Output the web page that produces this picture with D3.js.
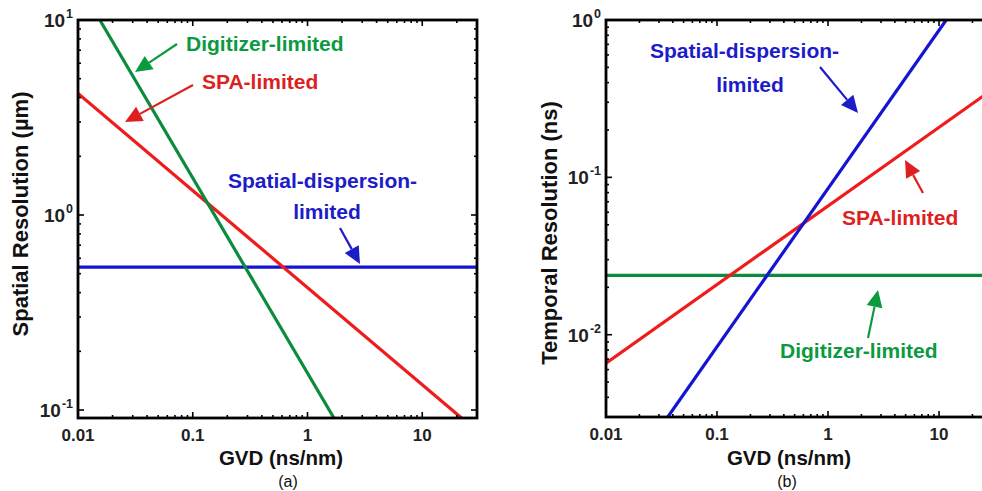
<!DOCTYPE html>
<html>
<head>
<meta charset="utf-8">
<script src="https://cdn.jsdelivr.net/npm/d3@7"></script>
<style>
html,body{margin:0;padding:0;background:#fff;}
svg{display:block;}
text{font-family:"Liberation Sans",Arial,Helvetica,sans-serif;}
</style>
</head>
<body>
<svg id="chart" width="982" height="491"></svg>
<script>
// ---------- data ----------
const gvdTicks = [0.01, 0.1, 1, 10];
const gvdTickLabels = ["0.01", "0.1", "1", "10"];

const spatialYTicks = [0.1, 1, 10];
const spatialYExp = ["-1", "0", "1"];
const temporalYTicks = [0.01, 0.1, 1];
const temporalYExp = ["-2", "-1", "0"];

// panel (a): spatial resolution (µm) vs GVD (ns/nm)
const spatialDigitizerX = [0.0155, 1.7];
const spatialDigitizerY = [10, 0.091];
const spatialSpaX = [0.01, 22];
const spatialSpaY = [4.2, 0.091];
const spatialDispX = [0.01, 30];
const spatialDispY = [0.54, 0.54];

// panel (b): temporal resolution (ns) vs GVD (ns/nm)
const temporalDigitizerX = [0.01, 30];
const temporalDigitizerY = [0.0238, 0.0238];
const temporalSpaX = [0.01, 30];
const temporalSpaY = [0.0066, 0.36];
const temporalDispX = [0.036, 11.6];
const temporalDispY = [0.003, 1];

// ---------- styles ----------
const GREEN = "#0a8c3c", RED = "#ee1c1c", BLUE = "#1414d2";
const GREEN_T = "#0b9a3f", RED_T = "#dd1f1f", BLUE_T = "#1c1cc8";

const svg = d3.select("#chart");

function panel(cfg) {
  const x = d3.scaleLog().domain(cfg.xDomain).range(cfg.xRange);
  const y = d3.scaleLog().domain(cfg.yDomain).range(cfg.yRange);
  const g = svg.append("g");
  const [x0, x1] = cfg.xRange, [y0, y1] = [cfg.yRange[1], cfg.yRange[0]];
  const clipId = "clip" + cfg.id;
  g.append("clipPath").attr("id", clipId).append("rect")
    .attr("x", x0).attr("y", y0).attr("width", x1 - x0).attr("height", y1 - y0);

  // lines
  const line = d3.line().x(d => x(d[0])).y(d => y(d[1]));
  cfg.series.forEach(s => {
    g.append("path").datum(s.xs.map((v, i) => [v, s.ys[i]]))
      .attr("d", line).attr("fill", "none").attr("stroke", s.color)
      .attr("stroke-width", 3.2).attr("clip-path", `url(#${clipId})`);
  });

  // ticks (inside, all 4 sides)
  const tg = g.append("g").attr("stroke", "#000").attr("stroke-width", 1.6);
  const xMinor = [], yMinor = [];
  for (let e = -4; e <= 3; e++) for (let m = 2; m <= 9; m++) {
    const v = m * Math.pow(10, e);
    if (v > cfg.xDomain[0] && v < cfg.xDomain[1]) xMinor.push(v);
    if (v > cfg.yDomain[0] && v < cfg.yDomain[1]) yMinor.push(v);
  }
  const addX = (vals, len) => vals.forEach(v => {
    const px = x(v);
    tg.append("line").attr("x1", px).attr("x2", px).attr("y1", y1).attr("y2", y1 - len);
    tg.append("line").attr("x1", px).attr("x2", px).attr("y1", y0).attr("y2", y0 + len);
  });
  const addY = (vals, len) => vals.forEach(v => {
    const py = y(v);
    tg.append("line").attr("y1", py).attr("y2", py).attr("x1", x0).attr("x2", x0 + len);
    tg.append("line").attr("y1", py).attr("y2", py).attr("x1", x1).attr("x2", x1 - len);
  });
  addX(xMinor, 3); addX(cfg.xTicks, 6);
  addY(yMinor, 3); addY(cfg.yTicks, 6);

  // frame
  g.append("rect").attr("x", x0).attr("y", y0).attr("width", x1 - x0).attr("height", y1 - y0)
    .attr("fill", "none").attr("stroke", "#000").attr("stroke-width", 2.8);

  // x tick labels
  cfg.xTicks.forEach((v, i) => {
    g.append("text").attr("x", x(v)).attr("y", y1 + 23).attr("text-anchor", "middle")
      .attr("font-size", 17).attr("font-weight", "bold").attr("fill", "#222")
      .text(cfg.xLabels[i]);
  });
  // y tick labels 10^n
  cfg.yTicks.forEach((v, i) => {
    const t = g.append("text").attr("x", x0 - 5).attr("y", y(v) + 7).attr("text-anchor", "end")
      .attr("font-size", 19).attr("font-weight", "bold").attr("fill", "#222");
    t.append("tspan").text("10");
    t.append("tspan").attr("dx", 1).attr("dy", -9).attr("font-size", 12.5).text(cfg.yExp[i]);
  });

  // axis labels
  g.append("text").attr("x", cfg.xLabelX).attr("y", 465).attr("text-anchor", "middle")
    .attr("font-size", 20.5).attr("font-weight", "bold").attr("fill", "#111").text("GVD (ns/nm)");
  g.append("text").attr("transform", `translate(${cfg.yLabelX},${cfg.yLabelY}) rotate(-90)`)
    .attr("text-anchor", "middle").attr("font-size", 22).attr("font-weight", "bold")
    .attr("fill", "#111").text(cfg.yLabel);
  g.append("text").attr("x", cfg.captionX).attr("y", 486.5).attr("text-anchor", "middle")
    .attr("font-size", 16).attr("font-family", "Liberation Serif, Times New Roman, serif")
    .attr("fill", "#111").text(cfg.caption);

  // annotations
  cfg.notes.forEach(n => {
    g.append("text").attr("x", n.x).attr("y", n.y).attr("text-anchor", n.anchor || "start")
      .attr("font-size", 21).attr("font-weight", "bold").attr("fill", n.color).text(n.text);
  });
  cfg.arrows.forEach(a => arrow(g, a));
}

function arrow(g, a) {
  const [sx, sy, tx, ty] = a.p;
  const dx = tx - sx, dy = ty - sy, L = Math.hypot(dx, dy);
  const ux = dx / L, uy = dy / L, hl = 17, hw = 8;
  const bx = tx - ux * hl, by = ty - uy * hl;
  g.append("line").attr("x1", sx).attr("y1", sy).attr("x2", bx).attr("y2", by)
    .attr("stroke", a.color).attr("stroke-width", 2.2);
  g.append("path").attr("d",
    `M${tx},${ty}L${bx - uy * hw},${by + ux * hw}L${bx + uy * hw},${by - ux * hw}Z`)
    .attr("fill", a.color);
}

panel({
  id: "a", xDomain: [0.01, 30], xRange: [78, 477], yDomain: [0.091, 10], yRange: [418, 20],
  xTicks: gvdTicks, xLabels: gvdTickLabels, yTicks: spatialYTicks, yExp: spatialYExp,
  xLabelX: 281, yLabelX: 28, yLabelY: 214, yLabel: "Spatial Resolution (\u00b5m)",
  captionX: 288, caption: "(a)",
  series: [
    {xs: spatialDispX, ys: spatialDispY, color: BLUE},
    {xs: spatialSpaX, ys: spatialSpaY, color: RED},
    {xs: spatialDigitizerX, ys: spatialDigitizerY, color: GREEN}
  ],
  notes: [
    {text: "Digitizer-limited", x: 186, y: 51, color: GREEN_T},
    {text: "SPA-limited", x: 202, y: 89, color: RED_T},
    {text: "Spatial-dispersion-", x: 228, y: 188, color: BLUE_T},
    {text: "limited", x: 327, y: 219, color: BLUE_T, anchor: "middle"}
  ],
  arrows: [
    {p: [177, 44, 135, 72], color: GREEN_T},
    {p: [193, 85, 125, 122], color: RED_T},
    {p: [340, 228, 360, 264], color: BLUE_T}
  ]
});

panel({
  id: "b", xDomain: [0.01, 30], xRange: [606, 992], yDomain: [0.003, 1], yRange: [417, 20],
  xTicks: gvdTicks, xLabels: gvdTickLabels, yTicks: temporalYTicks, yExp: temporalYExp,
  xLabelX: 789, yLabelX: 557, yLabelY: 233, yLabel: "Temporal Resolution (ns)",
  captionX: 787, caption: "(b)",
  series: [
    {xs: temporalDigitizerX, ys: temporalDigitizerY, color: GREEN},
    {xs: temporalSpaX, ys: temporalSpaY, color: RED},
    {xs: temporalDispX, ys: temporalDispY, color: BLUE}
  ],
  notes: [
    {text: "Spatial-dispersion-", x: 650, y: 58, color: BLUE_T},
    {text: "limited", x: 750, y: 92, color: BLUE_T, anchor: "middle"},
    {text: "SPA-limited", x: 842, y: 225, color: RED_T},
    {text: "Digitizer-limited", x: 780, y: 358, color: GREEN_T}
  ],
  arrows: [
    {p: [820, 67, 858, 113], color: BLUE_T},
    {p: [923, 193, 905, 160], color: RED_T},
    {p: [868, 338, 878, 290], color: GREEN_T}
  ]
});
</script>
</body>
</html>
